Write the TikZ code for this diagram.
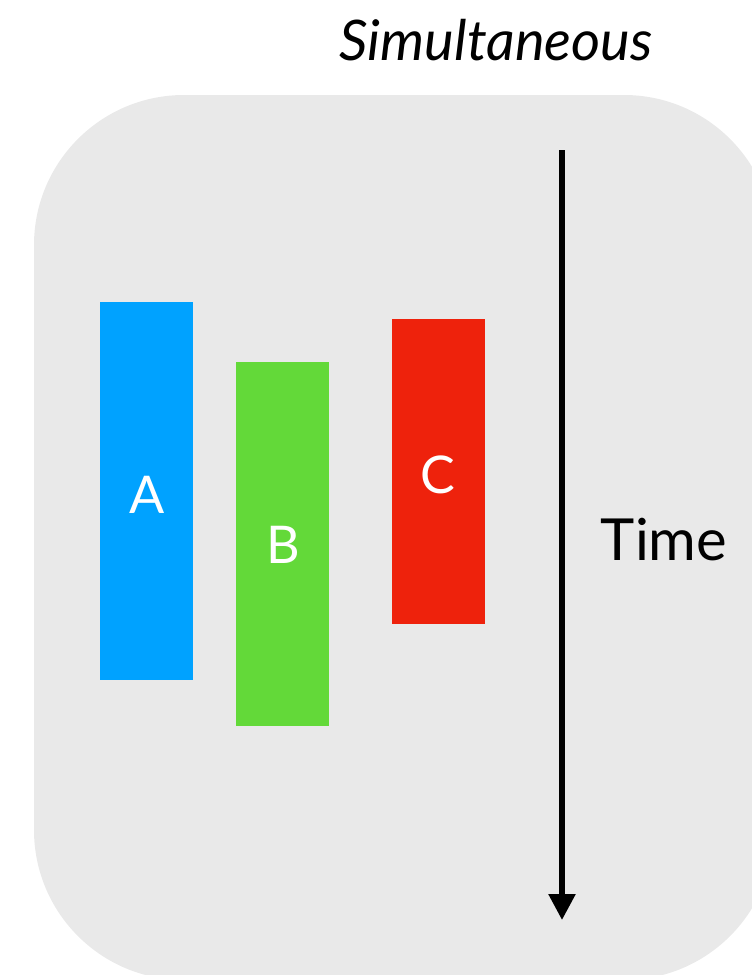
\documentclass[tikz,border=0pt]{standalone}
\usepackage{fontspec}
\setmainfont{Lato}
\usetikzlibrary{arrows.meta}
\definecolor{panelgray}{HTML}{E9E9E9}
\definecolor{ablue}{HTML}{00A2FF}
\definecolor{bgreen}{HTML}{63D939}
\definecolor{cred}{HTML}{EE220C}
\tikzset{
  bar/.style={draw=none, minimum width=93pt, inner sep=0pt},
  barlabel/.style={text=white, font=\fontsize{52}{52}\selectfont},
}
\begin{document}
\begin{tikzpicture}[x=1pt,y=-1pt]
\useasboundingbox (0,0) rectangle (752,975);
\begin{scope}
\clip (0,0) rectangle (752,975);
\fill[panelgray, rounded corners=150pt] (34,95) rectangle (774,980);
\end{scope}
\node[font=\itshape\fontsize{56}{56}\selectfont] (title) at (496,40) {Simultaneous};
\node[bar, fill=ablue, minimum height=378pt] (A) at (146.5,491) {};
\node[barlabel] (Alab) at (147,495) {A};
\node[bar, fill=bgreen, minimum height=364pt] (B) at (282.5,544) {};
\node[barlabel] (Blab) at (283,545) {B};
\node[bar, fill=cred, minimum height=305pt] (C) at (438.5,471.5) {};
\node[barlabel] (Clab) at (438,475) {C};
\coordinate (ts) at (562,150);
\coordinate (te) at (562,920);
\draw[line width=5.5pt, -{Triangle[length=26pt,width=26pt]}] (ts) -- (te);
\node[font=\fontsize{58}{58}\selectfont] (time) at (664,540) {Time};
\end{tikzpicture}
\end{document}
